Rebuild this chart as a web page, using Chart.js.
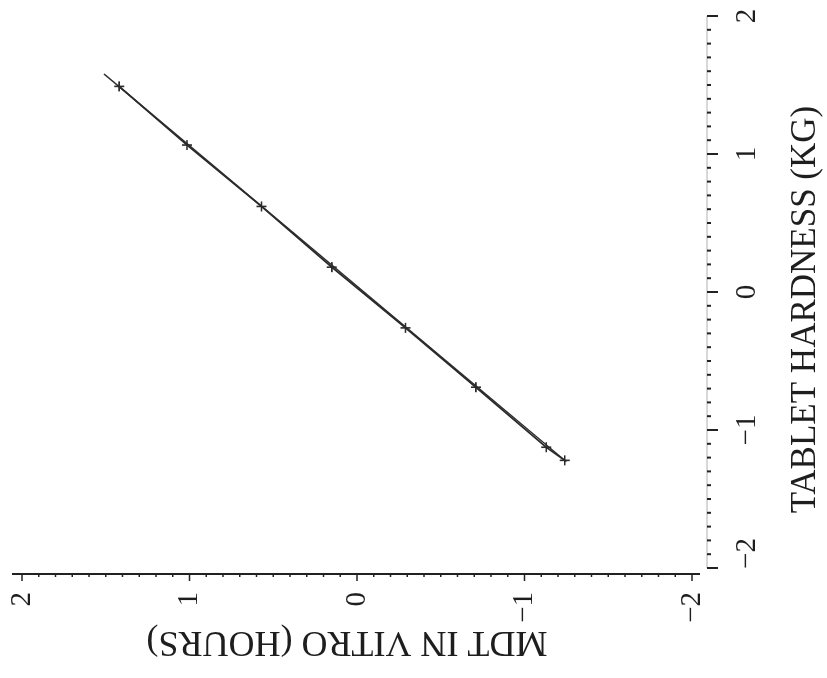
<!DOCTYPE html>
<html>
<head>
<meta charset="utf-8">
<title>MDT in vitro vs tablet hardness</title>
<script src="https://cdn.jsdelivr.net/npm/chart.js@4.4.1/dist/chart.umd.min.js"></script>
<style>
  html, body { margin: 0; padding: 0; overflow: hidden; background: #fff; width: 827px; height: 678px; }
  /* the chart is laid out upright, then turned a quarter turn like the scanned figure */
  #wrap { position: absolute; left: 0; top: 0; width: 678px; height: 827px;
          transform-origin: 0 0; transform: translate(0, 678px) rotate(-90deg); }
</style>
</head>
<body>
<div id="wrap"><canvas id="chart" width="678" height="827"></canvas></div>
<script>
// measured points (+ markers)
const hardness = [1.49, 1.065, 0.62, 0.18, -0.26, -0.69, -1.125, -1.22];
const mdt      = [1.42, 1.015, 0.57, 0.15, -0.29, -0.71, -1.13, -1.24];

// fitted straight line, end points
const fitHardness = [1.58, -1.23];
const fitMdt      = [1.51, -1.25];

// axis ticks
const hardnessTicks = [-2, -1, 0, 1, 2];
const mdtTicks      = [2, 1, 0, -1, -2];
const minorStep = 0.1;

const label = v => (v < 0 ? '\u2212' + Math.abs(v) : String(v));
const xLoTick = Math.min(...hardnessTicks);

// draw the two axes with their minor ticks (outside the plot)
const axisPlugin = {
  id: 'axisLines',
  afterDraw(chart) {
    const { ctx, chartArea: a, scales: { x, y } } = chart;
    ctx.save();

    // MDT axis: solid line
    ctx.strokeStyle = '#222';
    ctx.lineWidth = 2;
    ctx.beginPath();
    ctx.moveTo(a.left, a.top);
    ctx.lineTo(a.left, a.bottom);
    ctx.stroke();
    ctx.lineWidth = 1.5;
    ctx.beginPath();
    const yLo = Math.min(...mdtTicks), yHi = Math.max(...mdtTicks);
    for (let i = Math.round(yLo / minorStep); i <= Math.round(yHi / minorStep); i++) {
      const py = y.getPixelForValue(i * minorStep);
      const len = i % 10 === 0 ? 7 : 3;
      ctx.moveTo(a.left, py);
      ctx.lineTo(a.left - len, py);
    }
    ctx.stroke();

    // hardness axis: faint line, ticks below
    const base = a.bottom + 7;
    const xHi = Math.max(...hardnessTicks);
    ctx.strokeStyle = '#b0b0b0';
    ctx.lineWidth = 1;
    ctx.beginPath();
    ctx.moveTo(x.getPixelForValue(xLoTick), base);
    ctx.lineTo(x.getPixelForValue(xHi), base);
    ctx.stroke();
    ctx.strokeStyle = '#222';
    ctx.lineWidth = 2;
    ctx.beginPath();
    for (let i = Math.round(xLoTick / minorStep); i <= Math.round(xHi / minorStep); i++) {
      const px = x.getPixelForValue(i * minorStep);
      const len = i % 10 === 0 ? 11 : 4;
      ctx.moveTo(px, base);
      ctx.lineTo(px, base + len);
    }
    ctx.stroke();

    ctx.restore();
  }
};

Chart.defaults.font.family = '"Liberation Serif", "DejaVu Serif", serif';
Chart.defaults.color = '#1e1e1e';

new Chart(document.getElementById('chart'), {
  type: 'scatter',
  data: {
    datasets: [
      {
        label: 'measured',
        data: hardness.map((h, i) => ({ x: h, y: mdt[i] })),
        showLine: true,
        borderColor: '#2b2b2b',
        borderWidth: 1.8,
        pointStyle: 'cross',
        pointRadius: 5,
        pointBorderWidth: 1.6,
        pointBorderColor: '#2b2b2b'
      },
      {
        label: 'fit',
        data: fitHardness.map((h, i) => ({ x: h, y: fitMdt[i] })),
        showLine: true,
        borderColor: '#2b2b2b',
        borderWidth: 1.4,
        pointRadius: 0
      }
    ]
  },
  options: {
    responsive: false,
    animation: false,
    layout: { padding: { left: 0, top: 12, right: 10, bottom: 0 } },
    plugins: { legend: { display: false }, tooltip: { enabled: false } },
    scales: {
      x: {
        type: 'linear',
        position: 'bottom',
        min: -2.0435,
        max: 2.0435,
        grid: { display: false, drawTicks: false },
        border: { display: false },
        afterBuildTicks: s => { s.ticks = hardnessTicks.map(v => ({ value: v })); },
        afterFit: s => { s.height = 127; s.paddingLeft = 0; s.paddingRight = 0; },
        ticks: {
          padding: 30,
          maxRotation: 0,
          autoSkip: false,
          font: { size: 29 },
          // the lowest label sits a little off its tick in the original
          callback: v => (v === xLoTick ? '\u00a0\u00a0\u00a0\u00a0' : '') + label(v)
        },
        title: {
          display: true,
          text: 'TABLET HARDNESS (KG)\u00a0\u00a0\u00a0\u00a0',
          font: { size: 35 },
          padding: { top: 0, bottom: 0 }
        }
      },
      y: {
        type: 'linear',
        position: 'left',
        min: -2.0478,
        max: 2.0597,
        grid: { display: false, drawTicks: false },
        border: { display: false },
        afterBuildTicks: s => { s.ticks = mdtTicks.map(v => ({ value: v })); },
        afterFit: s => { s.width = 104; s.paddingTop = 0; s.paddingBottom = 0; },
        ticks: {
          padding: 18,
          autoSkip: false,
          font: { size: 29 },
          callback: v => label(v)
        },
        title: {
          display: true,
          text: '\u00a0\u00a0MDT IN VITRO (HOURS)',
          font: { size: 36 },
          padding: { top: 15, bottom: 0 }
        }
      }
    }
  },
  plugins: [axisPlugin]
});
</script>
</body>
</html>
